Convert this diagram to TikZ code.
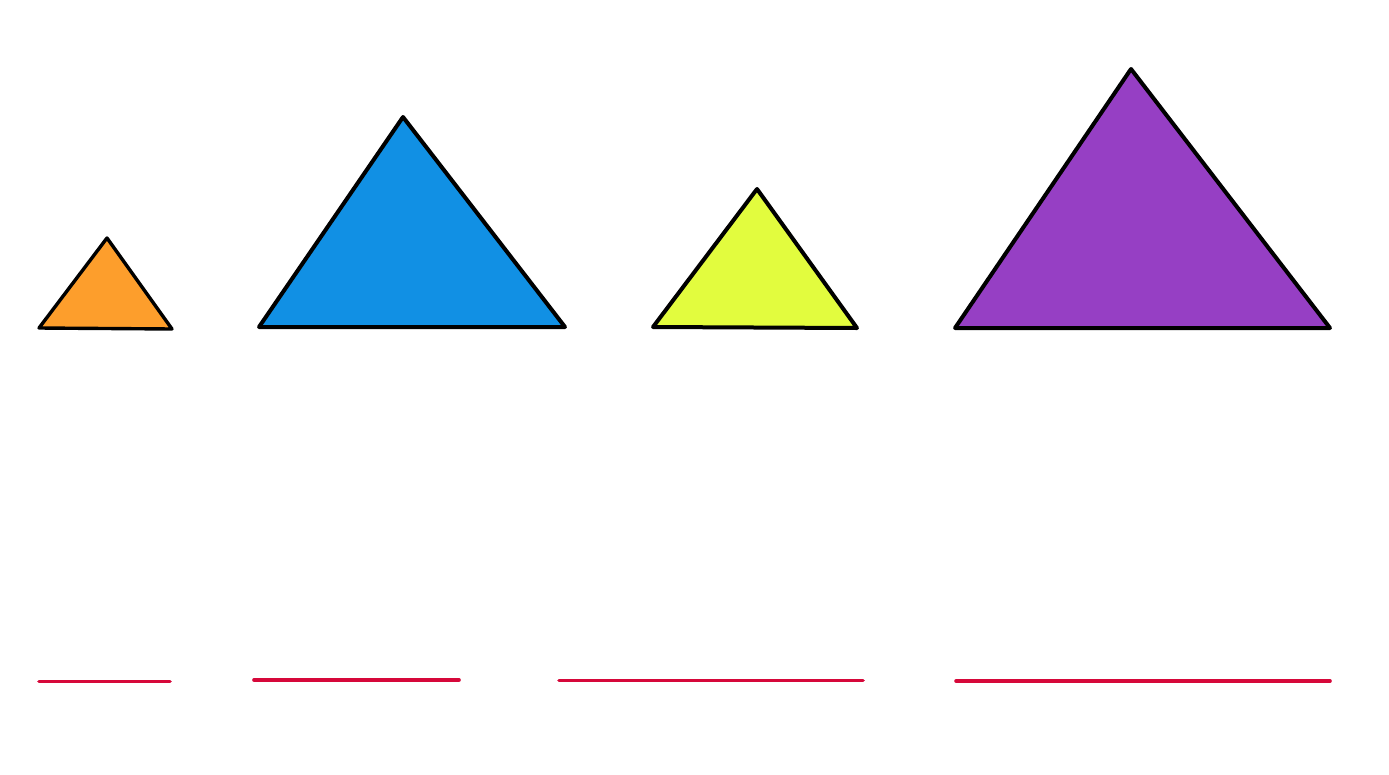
\documentclass[tikz,border=0pt]{standalone}
\definecolor{triorange}{HTML}{FD9E2C}
\definecolor{triblue}{HTML}{1190E4}
\definecolor{triyellow}{HTML}{E2FC3E}
\definecolor{tripurple}{HTML}{963FC4}
\definecolor{linered}{HTML}{D6083A}
\tikzset{
  tri/.style={draw=black, line width=4pt, line join=round},
  redline/.style={draw=linered, line width=3.6pt, line cap=round}
}
\begin{document}
\begin{tikzpicture}[x=1pt,y=-1pt]
\useasboundingbox[fill=white] (0,0) rectangle (1389,774);
\draw[tri, fill=triorange, line width=3.4pt] (39,328) -- (107,238) -- (172,329) -- cycle;
\draw[tri, fill=triblue] (259,327) -- (403,117) -- (565,327) -- cycle;
\draw[tri, fill=triyellow] (653,327) -- (757,189) -- (857,328) -- cycle;
\draw[tri, fill=tripurple] (955,328) -- (1131,69) -- (1330,328) -- cycle;
\draw[redline] (39,681.5) -- (170,681.5);
\draw[redline] (254,680) -- (459,680);
\draw[redline] (559,680.5) -- (863,680.5);
\draw[redline] (956,681) -- (1330,681);
\end{tikzpicture}
\end{document}
